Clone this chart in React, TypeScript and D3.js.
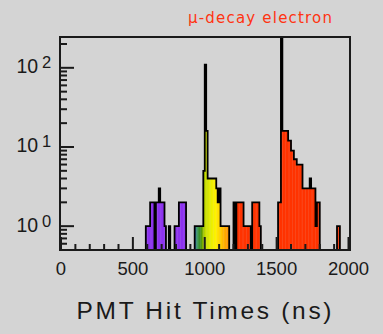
import React, { useRef, useEffect } from 'react';
import * as d3 from 'd3';

// PMT hit-time histogram, 10 ns bins, only the non-empty stretches are listed
const binWidth = 10;
const groupStarts = [590, 930, 1200, 1510, 1920];
const purpleCounts = [1, 1, 1, 2, 2, 2, 0, 2, 2, 3, 2, 2, 2, 1, 0, 0, 1, 0, 0, 0, 1, 1, 1, 2, 2, 2, 2, 2];
const promptCounts = [1, 1, 1, 1, 1, 1, 5, 110, 16, 4, 4, 4, 4, 4, 4, 3, 2, 3, 1, 1, 1, 1, 1, 1];
const lateCounts = [2, 0, 2, 2, 2, 2, 2, 1, 1, 1, 1, 1, 0, 2, 2, 2, 2, 2, 1];
const electronCounts = [2, 2, 300, 16, 16, 16, 16, 12, 12, 9, 9, 7, 7, 6, 6, 6, 6, 3, 3, 3, 3, 3, 4, 3, 3, 3, 1, 2, 2];
const tailCounts = [1, 1];
const groupCounts = [purpleCounts, promptCounts, lateCounts, electronCounts, tailCounts];

const xTickLabels = [0, 500, 1000, 1500, 2000];
const yTickPowers = [0, 1, 2];
const title = 'μ-decay electron';
const xTitle = 'PMT Hit Times (ns)';

const W = 383;
const H = 334;
const BG = '#d4d4d4';
const INK = '#1a1a1a';

const App: React.FC = () => {
    const svgRef = useRef<SVGSVGElement | null>(null);

    useEffect(() => {
        if (!svgRef.current) return;
        const svg = d3.select(svgRef.current);
        svg.selectAll('*').remove();

        const plot = { left: 60, right: 350, top: 37, bottom: 250 };
        const x = d3.scaleLinear().domain([0, 2000]).range([61, 348.5]);
        const y = d3.scaleLog().domain([0.5, 245]).range([plot.bottom, plot.top]);

        // time -> rainbow colour of the bin
        const color = d3.scaleLinear<string>()
            .domain([880, 930, 950, 970, 985, 1000, 1040, 1075, 1105, 1135, 1165, 1190])
            .range(['#8c32f0', '#2f74dc', '#3d9a4a', '#3c8a1c', '#7aae00', '#c4da00', '#e6ef00', '#fff200', '#ffd200', '#ffb000', '#ff9200', '#ff3300'])
            .clamp(true);

        svg.append('rect').attr('width', W).attr('height', H).attr('fill', BG);

        svg.append('defs').append('clipPath').attr('id', 'plotClip')
            .append('rect')
            .attr('x', plot.left).attr('y', plot.top)
            .attr('width', plot.right - plot.left).attr('height', plot.bottom - plot.top);

        const hist = svg.append('g').attr('clip-path', 'url(#plotClip)');

        const bins: { t0: number; c: number }[] = [];
        groupStarts.forEach((s, gi) => {
            groupCounts[gi].forEach((c, i) => bins.push({ t0: s + i * binWidth, c }));
        });

        hist.selectAll('rect.bin')
            .data(bins.filter(b => b.c > 0))
            .join('rect')
            .attr('class', 'bin')
            .attr('x', d => x(d.t0))
            .attr('width', d => x(d.t0 + binWidth) - x(d.t0) + 0.3)
            .attr('y', d => y(d.c))
            .attr('height', d => plot.bottom - y(d.c))
            .attr('fill', d => color(d.t0 + binWidth / 2));

        // step outline per group, empty bins drop to the axis
        groupStarts.forEach((s, gi) => {
            const counts = groupCounts[gi];
            const path = d3.path();
            path.moveTo(x(s), plot.bottom);
            counts.forEach((c, i) => {
                const yc = c > 0 ? y(c) : plot.bottom;
                path.lineTo(x(s + i * binWidth), yc);
                path.lineTo(x(s + (i + 1) * binWidth), yc);
            });
            path.lineTo(x(s + counts.length * binWidth), plot.bottom);
            hist.append('path')
                .attr('d', path.toString())
                .attr('fill', 'none')
                .attr('stroke', '#000')
                .attr('stroke-width', 1.8)
                .attr('stroke-linejoin', 'miter');
        });

        // ticks (inward)
        const ticks = svg.append('g').attr('stroke', INK).attr('stroke-width', 2);
        ticks.selectAll('line.xt')
            .data(x.ticks(20))
            .join('line')
            .attr('x1', d => x(d)).attr('x2', d => x(d))
            .attr('y1', plot.bottom)
            .attr('y2', d => plot.bottom - (d % 500 === 0 ? 13 : 6));
        ticks.selectAll('line.yt')
            .data(y.ticks())
            .join('line')
            .attr('x1', plot.left)
            .attr('x2', d => plot.left + (Number.isInteger(Math.log10(d)) ? 14 : 7))
            .attr('y1', d => y(d)).attr('y2', d => y(d));

        svg.append('rect')
            .attr('x', plot.left).attr('y', plot.top)
            .attr('width', plot.right - plot.left).attr('height', plot.bottom - plot.top)
            .attr('fill', 'none').attr('stroke', INK).attr('stroke-width', 2);

        svg.append('g')
            .selectAll('text')
            .data(xTickLabels)
            .join('text')
            .attr('x', d => x(d))
            .attr('y', 275)
            .attr('text-anchor', 'middle')
            .attr('font-family', '"Liberation Sans", Arial, sans-serif')
            .attr('font-size', 18.5)
            .attr('fill', INK)
            .text(d => d);

        const yLab = svg.append('g')
            .attr('font-family', '"Liberation Sans", Arial, sans-serif')
            .attr('fill', INK);
        yTickPowers.forEach(p => {
            const ty = y(Math.pow(10, p));
            yLab.append('text').attr('x', 16.5).attr('y', ty + 5.5).attr('font-size', 19.5).text('10');
            yLab.append('text').attr('x', 42).attr('y', ty + 0.5).attr('font-size', 16.5).text(p);
        });

        svg.append('text')
            .attr('x', 260).attr('y', 23)
            .attr('text-anchor', 'middle')
            .attr('font-family', '"DejaVu Sans", sans-serif')
            .attr('font-size', 15)
            .attr('fill', '#ff3311')
            .attr('textLength', 144)
            .attr('lengthAdjust', 'spacing')
            .text(title);

        svg.append('text')
            .attr('x', 204).attr('y', 318.5)
            .attr('text-anchor', 'middle')
            .attr('font-family', '"Liberation Sans", Arial, sans-serif')
            .attr('font-size', 24.5)
            .attr('fill', INK)
            .attr('textLength', 255)
            .attr('lengthAdjust', 'spacing')
            .text(xTitle);
    }, []);

    return (
        <div style={{ position: 'absolute', left: 0, top: 0, width: W, height: H }}>
            <svg ref={svgRef} width={W} height={H} style={{ display: 'block' }}></svg>
        </div>
    );
};

export default App;
